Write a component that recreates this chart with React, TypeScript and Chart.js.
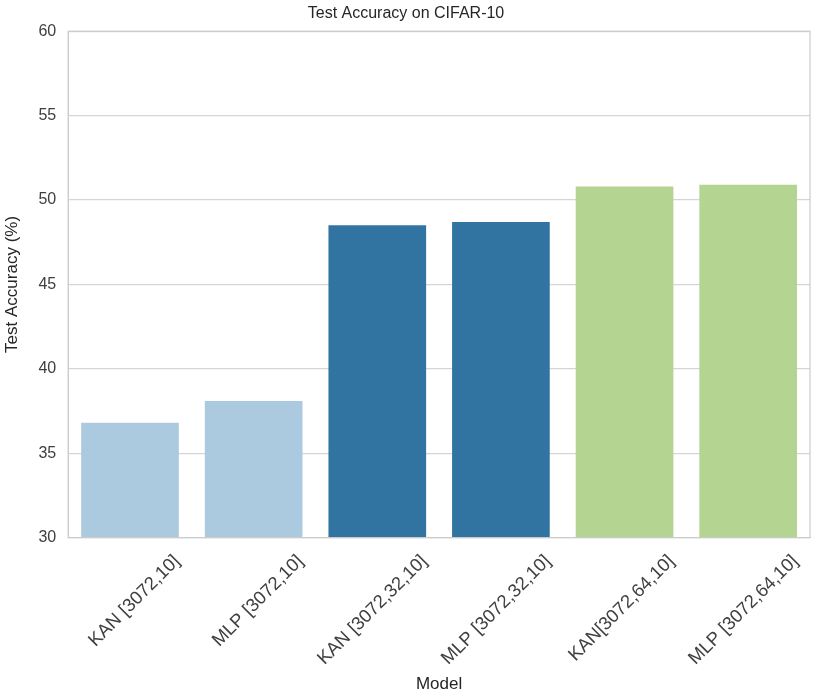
import React, { useEffect, useRef } from "react";
import { Chart, registerables } from "chart.js";

Chart.register(...registerables);

const categories = [
  "KAN [3072,10]",
  "MLP [3072,10]",
  "KAN [3072,32,10]",
  "MLP [3072,32,10]",
  "KAN[3072,64,10]",
  "MLP [3072,64,10]",
];
const accuracy = [36.8, 38.1, 48.5, 48.7, 50.8, 50.9];
const barColors = ["#abcadf", "#abcadf", "#3274a1", "#3274a1", "#b3d591", "#b3d591"];
const yTicks = [30, 35, 40, 45, 50, 55, 60];

const framePlugin = {
  id: "frame",
  afterDatasetsDraw(chart: any) {
    const { ctx, chartArea } = chart;
    ctx.save();
    ctx.strokeStyle = "#cccccc";
    ctx.lineWidth = 1.2;
    ctx.strokeRect(chartArea.left, chartArea.top, chartArea.right - chartArea.left, chartArea.bottom - chartArea.top);
    ctx.restore();
  },
};

const FONT = "Liberation Sans, Arial, sans-serif";

export default function App() {
  const ref = useRef<HTMLCanvasElement>(null);
  useEffect(() => {
    document.body.style.margin = "0";
    const chart = new Chart(ref.current!, {
      type: "bar",
      data: {
        labels: categories,
        datasets: [
          {
            data: accuracy,
            backgroundColor: barColors,
            barPercentage: 0.79,
            categoryPercentage: 1.0,
          },
        ],
      },
      options: {
        animation: false,
        responsive: false,
        maintainAspectRatio: false,
        layout: { padding: { left: 2, right: 20, top: 0, bottom: 2 } },
        plugins: {
          legend: { display: false },
          tooltip: { enabled: false },
          title: {
            display: true,
            text: "Test Accuracy on CIFAR-10",
            color: "#262626",
            font: { family: FONT, size: 16, weight: "normal" },
            padding: { top: 4, bottom: 8 },
          },
        },
        scales: {
          x: {
            grid: { display: false },
            border: { display: true, color: "#cccccc" },
            ticks: {
              color: "#404040",
              font: { family: FONT, size: 18.5 },
              minRotation: 45,
              maxRotation: 45,
              padding: 5,
              labelOffset: 47,
            },
            title: {
              display: true,
              text: "Model",
              color: "#262626",
              font: { family: FONT, size: 17 },
              padding: { top: 0, bottom: 0 },
            },
          },
          y: {
            min: 30,
            max: 60,
            afterBuildTicks: (axis: any) => {
              axis.ticks = yTicks.map((v) => ({ value: v }));
            },
            grid: { color: "#d5d5d5", lineWidth: 1.2, drawTicks: false },
            border: { display: true, color: "#cccccc" },
            ticks: {
              color: "#404040",
              font: { family: FONT, size: 16 },
              padding: 12,
            },
            title: {
              display: true,
              text: "Test Accuracy (%)",
              color: "#262626",
              font: { family: FONT, size: 17 },
              padding: { top: 0, bottom: 4 },
            },
          },
        },
      },
      plugins: [framePlugin],
    });
    return () => chart.destroy();
  }, []);
  return <canvas ref={ref} width={830} height={697} style={{ display: "block" }} />;
}
